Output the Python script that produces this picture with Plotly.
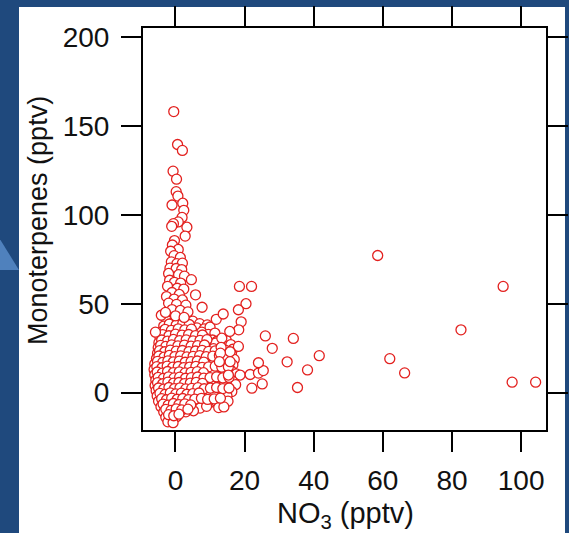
import plotly.graph_objects as go

# ---------------- data ----------------
# dense cluster, main layer (rows roughly every 3 pptv of monoterpenes)
no3_block = [
    -2.6, -0.8, 1.2, 3.2, 5.0, 7.0, 9.2,
    -3.4, -1.6, 0.4, 2.2, 4.2, 6.2, 8.3, 10.0,
    -4.0, -2.2, -0.3, 1.6, 3.6, 5.6, 7.6, 9.5, 11.4,
    -4.5, -2.8, -1.0, 0.9, 2.8, 4.8, 6.8, 8.8, 10.7, 12.0, 14.7,
    -4.8, -3.2, -1.5, 0.3, 2.2, 4.2, 6.2, 8.0, 10.0, 11.6, 14.0, 16.0,
    -5.0, -3.6, -2.0, -0.2, 1.6, 3.5, 5.4, 7.4, 9.2, 11.0, 14.4, 16.6,
    -5.2, -3.8, -2.4, -0.7, 1.0, 2.9, 4.8, 6.7, 8.6, 10.4, 12.2, 14.2, 16.2,
    -5.5, -4.0, -2.6, -1.0, 0.6, 2.4, 4.2, 6.0, 7.9, 9.8, 11.6, 13.6, 15.5, 17.0,
    -6.0, -4.4, -2.9, -1.4, 0.2, 1.9, 3.6, 5.4, 7.2, 9.1, 11.0, 13.0, 14.8, 16.6,
    -6.2, -4.7, -3.2, -1.6, 0.0, 1.6, 3.2, 5.0, 6.8, 8.6, 10.4, 12.3, 14.2, 16.0,
    -6.0, -4.5, -3.0, -1.4, 0.3, 1.9, 3.6, 5.4, 7.2, 9.0, 10.8, 12.6, 14.4, 16.2, 17.6,
    -5.7, -4.2, -2.7, -1.2, 0.4, 2.0, 3.7, 5.5, 7.3, 9.1, 10.9, 12.8, 14.6, 16.5,
    -5.9, -4.4, -2.9, -1.4, 0.1, 1.7, 3.4, 5.1, 6.9, 8.7, 10.5, 12.3, 14.1, 15.9, 17.4,
    -5.6, -4.1, -2.6, -1.1, 0.5, 2.1, 3.8, 5.6, 7.4, 9.2, 11.0, 12.8, 14.6, 16.3,
    -5.3, -3.8, -2.3, -0.8, 0.8, 2.4, 4.1, 5.9, 7.7, 9.5, 11.3, 13.1, 14.9,
    -4.9, -3.4, -1.9, -0.4, 1.2, 2.9, 4.6, 6.4, 8.2, 10.0, 11.8, 13.6, 15.2,
    -4.2, -2.8, -1.3, 0.3, 1.9, 3.6, 5.3, 7.1, 9.0, 12.5, 14.0,
    -3.4, -1.9, -0.4, 1.3, 3.0, 5.2,
    -2.8, -1.2, 0.3,
    -2.2, -0.7,
]
mono_block = [
    40.6, 39.2, 40.9, 39.5, 40.2, 38.8, 38.1,
    37.4, 36.6, 37.8, 36.9, 37.2, 36.4, 35.8, 36.9,
    34.2, 33.6, 34.8, 33.9, 34.5, 33.2, 34.0, 32.8, 33.5,
    31.0, 30.4, 31.6, 30.8, 31.3, 30.2, 31.1, 30.5, 29.6, 28.9, 29.4,
    28.1, 27.5, 28.6, 27.8, 28.3, 27.2, 28.0, 27.4, 26.6, 27.9, 26.2, 27.0,
    25.3, 24.6, 25.7, 24.9, 25.4, 24.3, 25.1, 24.5, 23.8, 24.7, 23.9, 24.4,
    22.2, 21.6, 22.6, 21.9, 22.4, 21.3, 22.1, 21.5, 22.0, 21.2, 21.8, 20.9, 21.6,
    19.2, 18.5, 19.6, 18.8, 19.3, 18.2, 19.0, 18.4, 19.4, 18.6, 19.1, 18.3, 19.5, 18.7,
    16.1, 15.4, 16.5, 15.7, 16.2, 15.1, 15.9, 15.3, 16.3, 15.5, 16.0, 15.2, 16.4, 15.6,
    13.0, 12.4, 13.4, 12.6, 13.1, 12.1, 12.9, 12.3, 13.3, 12.5, 12.9, 12.2, 13.2, 12.6,
    10.0, 9.4, 10.4, 9.6, 10.1, 9.1, 9.9, 9.3, 10.3, 9.5, 10.0, 9.2, 10.2, 9.6, 10.5,
    7.1, 6.4, 7.5, 6.7, 7.2, 6.1, 6.9, 6.3, 7.3, 6.5, 7.0, 6.2, 7.2, 6.6,
    4.0, 3.4, 4.4, 3.6, 4.1, 3.1, 3.9, 3.3, 4.3, 3.5, 4.0, 3.2, 4.2, 3.6, 4.5,
    1.1, 0.4, 1.5, 0.7, 1.2, 0.1, 0.9, 0.3, 1.3, 0.5, 1.0, 0.2, 1.2, 0.6,
    -1.9, -2.6, -1.5, -2.3, -1.8, -2.9, -2.1, -2.7, -1.7, -2.5, -2.0, -2.8, -1.8,
    -4.9, -5.6, -4.5, -5.3, -4.8, -5.9, -5.1, -5.7, -4.7, -5.5, -5.0, -5.8, -4.8,
    -7.9, -8.6, -7.5, -8.3, -7.8, -8.9, -8.1, -8.7, -7.7, -8.4, -8.0,
    -10.9, -11.6, -10.5, -11.3, -10.8, -10.2,
    -13.9, -14.6, -13.5,
    -16.4, -16.9,
]

# dense cluster, second (offset) layer
no3_fill = [
    -1.8, 0.2, 2.1, 4.0,
    -3.0, -1.2, 0.8, 2.7, 4.6,
    -3.7, -1.9, 0.0, 1.9, 3.8, 5.8, 7.8,
    -4.0, -2.3, -0.6, 1.2, 3.1, 5.1, 7.1, 9.1,
    -4.3, -2.8, -1.1, 0.7, 2.6, 4.5, 6.4, 8.4,
    -4.6, -3.1, -1.5, 0.2, 2.0, 3.9, 5.8, 7.7, 9.6, 11.5,
    -4.8, -3.3, -1.8, -0.2, 1.5, 3.3, 5.1, 7.0, 8.9, 10.8, 12.7, 14.6,
    -5.2, -3.7, -2.2, -0.6, 1.1, 2.8, 4.5, 6.3, 8.2,
    -5.4, -3.9, -2.4, -0.8, 0.8, 2.4, 4.1, 5.9, 7.7, 9.6, 11.5, 13.4, 15.3,
    -5.3, -3.8, -2.3, -0.6, 1.1, 2.8, 4.5, 6.3, 8.1,
    -5.0, -3.5, -2.0, -0.4, 1.2, 2.9, 4.6, 6.4, 8.2, 10.0, 11.9, 13.7, 15.5,
    -5.2, -3.7, -2.2, -0.6, 1.0, 2.6, 4.3, 6.0, 7.8,
    -4.9, -3.4, -1.9, -0.3, 1.3, 3.0, 4.7, 6.5, 8.3, 10.1, 11.9, 13.7, 15.5,
    -4.5, -3.0, -1.5, 0.1, 1.7, 3.3, 5.0, 6.8,
    -4.0, -2.6, -1.1, 0.5, 2.1, 3.8, 5.6, 7.5, 9.3, 11.2, 13.0,
    -3.6, -2.1, -0.6, 1.0, 2.7, 4.4,
    -2.8, -1.3, 0.2, 1.8, 3.6,
    -2.0, -0.5, 1.0,
]
mono_fill = [
    38.6, 38.0, 38.9, 38.3,
    35.6, 35.0, 35.9, 35.3, 35.7,
    32.6, 32.0, 32.9, 32.3, 32.7, 32.1, 32.4,
    29.6, 29.0, 29.9, 29.3, 29.7, 29.1, 29.4, 29.8,
    26.6, 26.0, 26.9, 26.3, 26.7, 26.1, 26.4, 26.8,
    23.6, 23.0, 23.9, 23.3, 23.7, 23.1, 23.4, 23.8, 23.2, 23.5,
    20.6, 20.0, 20.9, 20.3, 20.7, 20.1, 20.4, 20.8, 20.2, 20.5, 20.9, 20.3,
    17.6, 17.0, 17.9, 17.3, 17.7, 17.1, 17.4, 17.8, 17.2,
    14.6, 14.0, 14.9, 14.3, 14.7, 14.1, 14.4, 14.8, 14.2, 14.5, 14.9, 14.3, 14.6,
    11.6, 11.0, 11.9, 11.3, 11.7, 11.1, 11.4, 11.8, 11.2,
    8.6, 8.0, 8.9, 8.3, 8.7, 8.1, 8.4, 8.8, 8.2, 8.5, 8.9, 8.3, 8.6,
    5.6, 5.0, 5.9, 5.3, 5.7, 5.1, 5.4, 5.8, 5.2,
    2.6, 2.0, 2.9, 2.3, 2.7, 2.1, 2.4, 2.8, 2.2, 2.5, 2.9, 2.3, 2.6,
    -0.4, -1.0, -0.1, -0.7, -0.3, -0.9, -0.6, -0.2,
    -3.4, -4.0, -3.1, -3.7, -3.3, -3.9, -3.6, -3.2, -3.8, -3.5, -3.1,
    -6.4, -7.0, -6.1, -6.7, -6.3, -6.9,
    -9.4, -10.0, -9.1, -9.7, -9.3,
    -12.4, -13.0, -12.1,
]

# plume of high monoterpenes near NO3 = 0
no3_plume = [
    -0.5, 0.6, 2.0, -0.7, 0.3, 0.2, 0.7, -1.0, 2.1, 2.4, 1.9, 0.8, -0.6, -1.1,
    3.3, 2.8, -0.3, -0.9, 0.8, -1.4, -0.4, 1.4, -1.2, 0.4, 2.0, -1.6, 0.2, 1.8,
    -2.0, 0.9, 2.6, 4.6, -1.7, -0.3, 1.5, -2.3, 0.5, 2.4, -1.0, 1.1, 5.8, -2.6,
    -0.4, 2.0, -2.0, 0.3, 3.0, 7.7, -4.1, -1.0, 1.4, 3.6, -2.9, 0.0, 2.5,
]
mono_plume = [
    158.0, 139.5, 136.2, 124.5, 120.0, 113.0, 110.5, 105.5, 106.5, 102.5, 98.5, 96.0, 95.0, 93.5,
    93.0, 88.0, 85.5, 83.0, 80.5, 79.5, 77.0, 76.0, 73.5, 72.5, 72.8, 70.0, 69.8, 69.2,
    67.0, 66.3, 65.5, 63.5, 63.2, 62.0, 61.6, 59.8, 58.7, 58.2, 56.3, 55.2, 55.0, 54.0,
    52.6, 52.1, 50.3, 49.6, 49.2, 48.0, 43.5, 46.7, 46.2, 45.4, 45.1, 43.2, 42.3,
]

# scattered points at higher NO3
no3_outer = [
    11.8, 13.8, 18.5, 22.0, 20.4, 18.2, 19.0, 18.3, 15.7, 13.4, 18.2, 15.8, 13.2,
    13.0, 12.7, 15.8, 15.3, 18.7, 21.6, 24.0, 25.4, 24.0, 22.1, 25.1, 26.0, 28.0,
    32.3, 34.1, 35.3, 38.2, 41.6, 58.5, 62.0, 66.3, 82.6, 94.8, 97.4, 104.2, -5.8,
]
mono_outer = [
    41.2, 44.2, 59.7, 59.7, 50.0, 46.6, 39.8, 35.3, 34.4, 30.6, 26.0, 23.0, 25.5,
    22.2, 17.4, 17.4, 9.9, 9.9, 10.2, 11.0, 12.4, 16.8, 2.5, 4.9, 31.9, 24.9,
    17.3, 30.5, 2.9, 12.8, 20.8, 77.1, 19.1, 11.1, 35.3, 59.7, 5.9, 5.9, 34.0,
]

x_ticks = [0, 20, 40, 60, 80, 100]
y_ticks = [0, 50, 100, 150, 200]

no3 = no3_block + no3_fill + no3_plume + no3_outer
mono = mono_block + mono_fill + mono_plume + mono_outer

# ---------------- figure ----------------
W, H = 569, 533
L, R, T, B = 143, 23, 28, 103
pw, ph = W - L - R, H - T - B


def px(xp):
    return (xp - L) / pw


def py(yp):
    return (H - B - yp) / ph


FONT = "Liberation Sans"
INK = "#111111"

fig = go.Figure(
    go.Scatter(
        x=no3, y=mono, mode="markers",
        marker=dict(symbol="circle", size=10, color="white",
                    line=dict(color="#e3211f", width=1.3)),
        showlegend=False, hoverinfo="x+y",
    )
)

axis_common = dict(
    ticks="outside", ticklen=20, tickwidth=2, tickcolor="black",
    showline=True, linecolor="black", linewidth=2, mirror="ticks",
    showgrid=False, zeroline=False, automargin=False,
    tickfont=dict(family=FONT, size=28, color=INK),
)

fig.update_layout(
    width=W, height=H, autosize=False,
    margin=dict(l=L, r=R, t=T, b=B, pad=0),
    paper_bgcolor="#1f497d", plot_bgcolor="white",
    xaxis=dict(range=[-9.4, 107.2], tickvals=x_ticks, ticklabelstandoff=4,
               **axis_common),
    yaxis=dict(range=[-21, 205], tickvals=y_ticks, ticklabelstandoff=6,
               **axis_common),
    shapes=[
        dict(type="path", xref="paper", yref="paper", layer="below",
             path=f"M {px(-2)} {py(236)} L {px(19)} {py(270)} L {px(-2)} {py(270)} Z",
             fillcolor="#4f81bd", line=dict(width=0)),
        dict(type="rect", xref="paper", yref="paper", layer="below",
             x0=px(19), x1=px(565), y0=py(534), y1=py(7),
             fillcolor="white", line=dict(width=0)),
    ],
    annotations=[
        dict(text="Monoterpenes (pptv)", xref="paper", yref="paper",
             x=px(38), y=py(221), textangle=-90, showarrow=False,
             xanchor="center", yanchor="middle",
             font=dict(family=FONT, size=27, color=INK)),
        dict(text="NO<sub>3</sub> (pptv)", xref="paper", yref="paper",
             x=px(345), y=py(515), showarrow=False,
             xanchor="center", yanchor="middle",
             font=dict(family=FONT, size=29, color=INK)),
    ],
)

fig.write_html("out.html")
